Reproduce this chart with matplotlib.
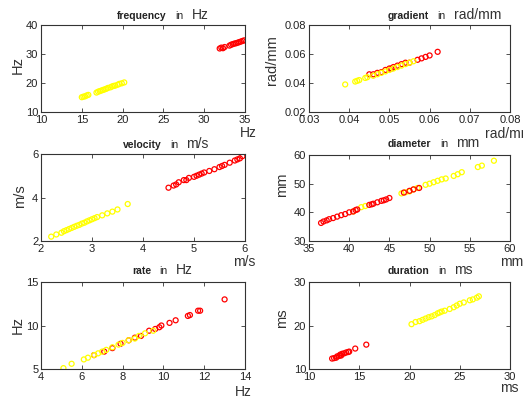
#!/usr/bin/env python

# Six scatter panels: measured vs. predicted, two groups (yellow / red)

import matplotlib
matplotlib.use('Agg')
import matplotlib.pyplot as plt
from matplotlib.offsetbox import TextArea, HPacker, AnchoredOffsetbox

plt.rcParams['font.family'] = ['Liberation Sans', 'DejaVu Sans']

# ---- data ----
freq_yellow_x = [15.0, 15.2, 15.4, 15.6, 15.8, 16.8, 17.0, 17.2, 17.4, 17.6, 17.8, 18.0,
                 18.2, 18.5, 18.7, 18.9, 19.1, 19.4, 19.6, 19.9, 20.2]
freq_yellow_y = [15.1, 15.3, 15.4, 15.7, 15.9, 16.7, 17.0, 17.2, 17.4, 17.6, 17.8, 18.0,
                 18.3, 18.5, 18.8, 19.0, 19.1, 19.4, 19.7, 19.9, 20.2]
freq_red_x = [31.9, 32.1, 32.3, 32.5, 33.1, 33.3, 33.5, 33.7, 33.9, 34.1, 34.3, 34.5, 34.7, 34.9]
freq_red_y = [31.9, 32.2, 32.0, 32.4, 32.9, 33.2, 33.4, 33.6, 33.7, 33.9, 34.1, 34.3, 34.5, 34.7]

grad_yellow_x = [0.039, 0.0415, 0.042, 0.0425, 0.044, 0.0445, 0.046, 0.047, 0.048, 0.049,
                 0.050, 0.051, 0.052, 0.053, 0.054, 0.055, 0.056]
grad_yellow_y = [0.039, 0.041, 0.0415, 0.042, 0.0435, 0.044, 0.045, 0.046, 0.047, 0.048,
                 0.049, 0.050, 0.051, 0.052, 0.053, 0.054, 0.055]
grad_red_x = [0.045, 0.046, 0.047, 0.048, 0.049, 0.050, 0.0505, 0.051, 0.052, 0.053, 0.054,
              0.055, 0.057, 0.058, 0.059, 0.060, 0.062]
grad_red_y = [0.046, 0.046, 0.047, 0.0475, 0.049, 0.050, 0.050, 0.051, 0.052, 0.053, 0.054,
              0.054, 0.056, 0.057, 0.058, 0.059, 0.0615]

vel_yellow_x = [2.2, 2.3, 2.4, 2.45, 2.5, 2.55, 2.6, 2.65, 2.7, 2.75, 2.8, 2.85, 2.9, 2.95,
                3.0, 3.05, 3.1, 3.2, 3.3, 3.4, 3.5, 3.7]
vel_yellow_y = [2.2, 2.3, 2.38, 2.45, 2.5, 2.55, 2.6, 2.65, 2.7, 2.74, 2.8, 2.84, 2.9, 2.95,
                3.0, 3.05, 3.1, 3.18, 3.27, 3.35, 3.45, 3.7]
vel_red_x = [4.5, 4.6, 4.65, 4.7, 4.8, 4.85, 4.9, 5.0, 5.05, 5.1, 5.15, 5.2, 5.3, 5.4, 5.5,
             5.55, 5.6, 5.7, 5.8, 5.85, 5.9, 5.95]
vel_red_y = [4.45, 4.55, 4.6, 4.7, 4.8, 4.8, 4.9, 4.95, 5.0, 5.05, 5.1, 5.15, 5.22, 5.3, 5.4,
             5.45, 5.5, 5.6, 5.7, 5.75, 5.8, 5.9]

diam_red_x = [36.5, 36.8, 37.2, 37.5, 38.0, 38.5, 39.0, 39.5, 40.0, 40.5, 40.8, 41.0, 42.5,
              42.8, 43.0, 43.5, 44.0, 44.3, 44.6, 45.0, 46.8, 47.5, 48.0, 48.7]
diam_red_y = [36.3, 36.8, 37.2, 37.6, 38.0, 38.5, 39.0, 39.4, 40.0, 40.3, 40.8, 41.0, 42.6,
              42.8, 43.0, 43.5, 44.0, 44.2, 44.5, 45.0, 46.9, 47.5, 48.0, 48.5]
diam_yellow_x = [40.5, 41.5, 42.0, 46.5, 47.0, 47.5, 48.0, 48.5, 49.5, 50.0, 50.5, 51.0, 51.5,
                 52.0, 53.0, 53.5, 54.0, 56.0, 56.5, 58.0]
diam_yellow_y = [40.3, 41.8, 42.2, 46.6, 47.0, 47.3, 48.0, 48.5, 49.6, 50.0, 50.5, 51.0, 51.5,
                 51.8, 52.7, 53.3, 54.0, 55.8, 56.3, 58.0]

rate_yellow_x = [5.1, 5.5, 6.1, 6.3, 6.6, 6.8, 7.0, 7.2, 7.5, 7.8, 8.0, 8.3, 8.6, 8.8, 9.1, 9.5]
rate_yellow_y = [5.1, 5.6, 6.1, 6.3, 6.6, 6.8, 7.0, 7.2, 7.5, 7.8, 8.0, 8.3, 8.5, 8.8, 9.1, 9.4]
rate_red_x = [6.6, 7.1, 7.5, 7.9, 8.3, 8.6, 8.9, 9.3, 9.6, 9.8, 9.9, 10.3, 10.6, 11.2, 11.3,
              11.7, 11.8, 13.0]
rate_red_y = [6.6, 7.0, 7.4, 7.9, 8.3, 8.6, 8.8, 9.4, 9.6, 9.8, 10.0, 10.3, 10.6, 11.1, 11.2,
              11.7, 11.7, 13.0]

dur_red_x = [12.3, 12.5, 12.7, 12.8, 13.0, 13.1, 13.2, 13.3, 13.5, 13.7, 13.9, 14.0, 14.6, 15.7]
dur_red_y = [12.4, 12.5, 12.6, 12.9, 13.0, 13.3, 13.1, 13.5, 13.6, 13.8, 13.9, 14.0, 14.7, 15.6]
dur_yellow_x = [20.2, 20.6, 21.0, 21.3, 21.6, 21.9, 22.2, 22.5, 22.8, 23.0, 23.2, 23.5, 24.0,
                24.4, 24.7, 25.0, 25.4, 26.0, 26.3, 26.7, 26.9]
dur_yellow_y = [20.3, 20.8, 21.0, 21.3, 21.6, 21.9, 22.1, 22.4, 22.8, 23.0, 23.2, 23.4, 23.8,
                24.2, 24.6, 25.0, 25.3, 25.8, 26.0, 26.4, 26.7]

titles = [('frequency', 'Hz'), ('gradient', 'rad/mm'), ('velocity', 'm/s'),
          ('diameter', 'mm'), ('rate', 'Hz'), ('duration', 'ms')]
limits = [(10, 35, 10, 40), (0.03, 0.08, 0.02, 0.08), (2, 6, 2, 6),
          (35, 60, 30, 60), (4, 14, 5, 15), (10, 30, 10, 30)]
xticks = [[10, 15, 20, 25, 30, 35], [0.03, 0.04, 0.05, 0.06, 0.07, 0.08], [2, 3, 4, 5, 6],
          [35, 40, 45, 50, 55, 60], [4, 6, 8, 10, 12, 14], [10, 15, 20, 25, 30]]
yticks = [[10, 20, 30, 40], [0.02, 0.04, 0.06, 0.08], [2, 4, 6],
          [30, 40, 50, 60], [5, 10, 15], [10, 20, 30]]
# draw order per panel: (x, y, colour)
series = [
    [(freq_yellow_x, freq_yellow_y, '#ffff00'), (freq_red_x, freq_red_y, '#ff0000')],
    [(grad_red_x, grad_red_y, '#ff0000'), (grad_yellow_x, grad_yellow_y, '#ffff00')],
    [(vel_yellow_x, vel_yellow_y, '#ffff00'), (vel_red_x, vel_red_y, '#ff0000')],
    [(diam_yellow_x, diam_yellow_y, '#ffff00'), (diam_red_x, diam_red_y, '#ff0000')],
    [(rate_red_x, rate_red_y, '#ff0000'), (rate_yellow_x, rate_yellow_y, '#ffff00')],
    [(dur_red_x, dur_red_y, '#ff0000'), (dur_yellow_x, dur_yellow_y, '#ffff00')],
]

W, H = 523, 400
fig = plt.figure(figsize=(W / 100, H / 100), dpi=100)

# axes boxes in pixels: left, top, right, bottom
boxes = [(41, 25, 245, 112), (309, 25, 510, 112),
         (41, 154, 245, 241), (309, 155, 510, 241),
         (41, 282, 245, 369), (309, 282, 510, 369)]
title_pos = [(117, 15), (388, 15), (123, 144), (388, 143), (132, 270), (388, 270)]
xunit_pos = [(240, 133), (485, 134), (233, 262), (500, 262), (235, 392), (500, 388)]
yunit_pos = [(18, 65), (272, 60), (20, 196), (282, 185), (18, 325), (282, 318)]

for i in range(6):
    l, t, r, b = boxes[i]
    ax = fig.add_axes([l / W, 1 - b / H, (r - l) / W, (b - t) / H])
    for x, y, c in series[i]:
        ax.scatter(x, y, s=13, facecolors='none', edgecolors=c, linewidths=0.9)
    x0, x1, y0, y1 = limits[i]
    ax.set_xlim(x0, x1)
    ax.set_ylim(y0, y1)
    ax.set_xticks(xticks[i])
    ax.set_yticks(yticks[i])
    ax.set_xticklabels(['%g' % v for v in xticks[i]])
    ax.set_yticklabels(['%g' % v for v in yticks[i]])
    ax.tick_params(direction='in', length=3, width=0.6, labelsize=8, pad=2,
                   top=True, right=True, colors='#333333', labelcolor='#222222')
    for sp in ax.spines.values():
        sp.set_linewidth(0.8)
        sp.set_color('#333333')

    name, unit = titles[i]
    parts = [TextArea(name, textprops=dict(fontsize=7.5, fontweight='bold', color='#222222')),
             TextArea('in', textprops=dict(fontsize=7.5, color='#222222')),
             TextArea(unit, textprops=dict(fontsize=10, color='#333333'))]
    box = HPacker(children=parts, align='baseline', pad=0, sep=6)
    tx, ty = title_pos[i]
    anc = AnchoredOffsetbox(loc='center left', child=box, pad=0, borderpad=0, frameon=False,
                            bbox_to_anchor=(tx / W, 1 - ty / H), bbox_transform=fig.transFigure)
    fig.add_artist(anc)

    ux, uy = xunit_pos[i]
    fig.text(ux / W, 1 - uy / H, unit, fontsize=10, color='#333333', ha='left', va='center')
    vx, vy = yunit_pos[i]
    fig.text(vx / W, 1 - vy / H, unit, fontsize=10.5, color='#333333', ha='center', va='center',
             rotation=90)

fig.savefig('out.png', dpi=100)
